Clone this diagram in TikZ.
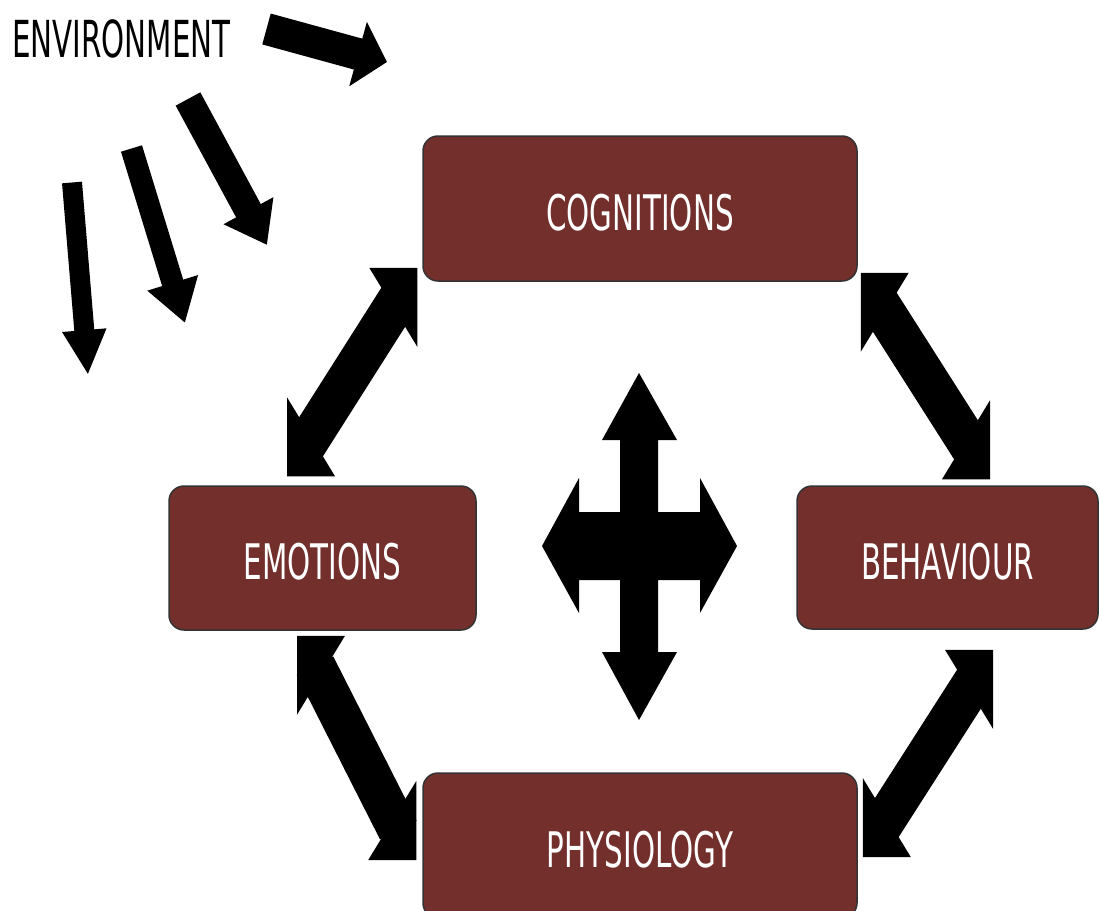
\documentclass[tikz,border=0pt]{standalone}
\usepackage{fontspec}
\usetikzlibrary{arrows.meta,positioning,calc}
\newfontfamily\boxfont{DejaVu Sans}[FakeStretch=0.6]
\newfontfamily\envfont{DejaVu Sans}[FakeStretch=0.575]
\definecolor{boxred}{RGB}{114,47,44}

\tikzset{
  factor/.style={draw=black!80, line width=1.5pt, fill=boxred, rounded corners=15pt,
    text=white, font=\boxfont\fontsize{49}{59}\selectfont, text height=44pt, inner sep=0pt},
  push/.style n args={3}{line width=#1, -{Triangle[width=#2,length=#3]}}
}

% block arrow with square-cornered heads: #3,#4 = x/y direction from #1 to #2
\newcommand\twoway[4]{%
  \fill (#1) -- ++({#3*48},0) -- ++({-#3*48},{#4*79}) -- cycle;
  \fill (#2) -- ++({-#3*48},0) -- ++({#3*48},{-#4*79}) -- cycle;
  \draw[line width=41pt] ($(#1)+({#3*18},{#4*30})$) -- ($(#2)+({-#3*18},{-#4*30})$);
}

\begin{document}
\begin{tikzpicture}[x=1pt, y=-1pt, on grid]
    \useasboundingbox (0,0) rectangle (1099,910);

      % Factors
      \node[factor, minimum width=434pt, minimum height=145pt] (cog) at (640,208.5) {COGNITIONS};
      \node[factor, minimum width=307pt, minimum height=144pt] (emo) [below left=349.5pt and 317.5pt of cog] {EMOTIONS};
      \node[factor, minimum width=301pt, minimum height=143pt] (beh) [below right=349pt and 307.5pt of cog] {BEHAVIOUR};
      \node[factor, minimum width=434pt, minimum height=145pt] (phy) [below=637pt of cog] {PHYSIOLOGY};

      \node[anchor=base west, inner sep=0pt, font=\envfont\fontsize{51}{61}\selectfont] (env) at (12,57) {ENVIRONMENT};

      % Link ends
      \coordinate (emoup) at ([xshift=-35.5pt, yshift=9pt]emo.north);
      \coordinate (cogl)  at ([xshift=-5pt, yshift=14pt]cog.south west);
      \coordinate (cogr)  at ([xshift=3pt, yshift=9pt]cog.south east);
      \coordinate (behup) at ([xshift=42.5pt, yshift=6pt]beh.north);
      \coordinate (emodn) at ([xshift=-25.5pt, yshift=-5pt]emo.south);
      \coordinate (phyl)  at ([xshift=-6pt, yshift=-14.5pt]phy.west);
      \coordinate (behdn) at ([xshift=45.5pt, yshift=-20pt]beh.south);
      \coordinate (phyr)  at ([xshift=5pt, yshift=-11.5pt]phy.east);

      % Two-way links around the cycle
      \twoway{emoup}{cogl}{1}{-1}
      \twoway{cogr}{behup}{1}{1}
      \twoway{emodn}{phyl}{1}{1}
      \twoway{behdn}{phyr}{-1}{1}

      % Environment pushing in
      \coordinate (e0) at (266.5,29);   \coordinate (f0) at (387,62);
      \coordinate (e1) at (188,99);     \coordinate (f1) at (267,245);
      \coordinate (e2) at (131.5,148.5);\coordinate (f2) at (185,323);
      \coordinate (e3) at (72,182.5);   \coordinate (f3) at (88,375);
      \draw[push={32pt}{65pt}{30pt}] (e0) -- (f0);
      \draw[push={28pt}{54pt}{39pt}] (e1) -- (f1);
      \draw[push={22pt}{50pt}{42pt}] (e2) -- (f2);
      \draw[push={20pt}{41pt}{45pt}] (e3) -- (f3);

      % Four-way cross in the middle
      \fill (639,373) -- (677,440) -- (658,440) -- (658,512) -- (700,512) -- (700,478)
        -- (737,546) -- (700,613) -- (700,580) -- (658,580) -- (658,652) -- (677,652)
        -- (639,720) -- (602,652) -- (620,652) -- (620,580) -- (579,580) -- (579,613)
        -- (542,546) -- (579,478) -- (579,512) -- (620,512) -- (620,440) -- (602,440) -- cycle;

    \end{tikzpicture}
\end{document}
